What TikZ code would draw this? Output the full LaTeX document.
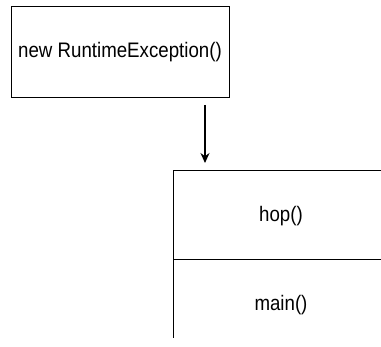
\documentclass[tikz,border=0pt]{standalone}
\usepackage{fontspec}
\setmainfont{Liberation Sans}
\usetikzlibrary{arrows.meta}
\begin{document}
\begin{tikzpicture}[x=1pt,y=-1pt,
  lbl/.style={font=\fontsize{21}{24}\selectfont, inner sep=0pt, xscale=0.89},
  frame/.style={draw=black, line width=0.9pt},
  conn/.style={draw=black, line width=1.1pt, -{Stealth[length=10pt,width=9pt]}}]
\useasboundingbox (0,0) rectangle (381,347);
\node[frame, minimum width=218pt, minimum height=91pt, anchor=north west, inner sep=0pt] (exc) at (11,6) {};
\node[lbl] (exct) at (120,52) {new RuntimeException()};
\coordinate (a1) at (205,105);
\coordinate (a2) at (205,163);
\draw[conn] (a1) -- (a2);
\coordinate (s1) at (381,170);
\coordinate (s2) at (173,170);
\coordinate (s3) at (173,338);
\coordinate (d1) at (173,259);
\coordinate (d2) at (381,259);
\draw[frame] (s1) -- (s2) -- (s3);
\draw[frame] (d1) -- (d2);
\node[lbl] (hop) at (281,216) {hop()};
\node[lbl] (main) at (281,305) {main()};
\end{tikzpicture}
\end{document}
